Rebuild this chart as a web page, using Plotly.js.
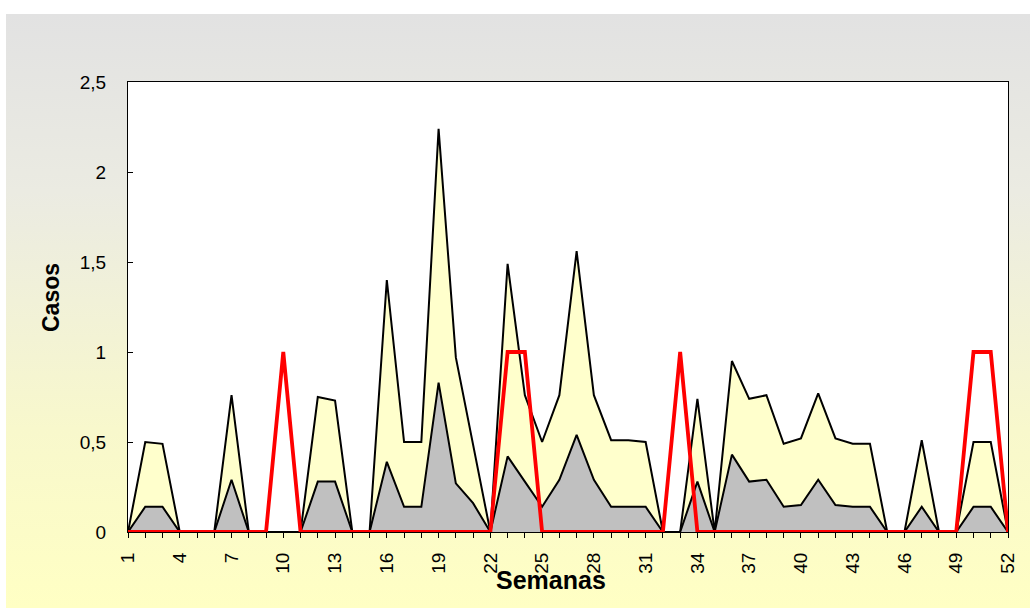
<!DOCTYPE html>
<html>
<head>
<meta charset="utf-8">
<script src="https://cdn.plot.ly/plotly-3.0.1.min.js"></script>
<style>
  html, body { margin: 0; padding: 0; background: #ffffff; }
  #bg { position: absolute; left: 6px; top: 14px; width: 1024px; height: 594px;
        background: linear-gradient(to bottom, #e2e2e2 0%, #ebebe2 30%, #f8f8cc 70%, #ffffc4 100%); }
  #chart { position: absolute; left: 0; top: 0; width: 1030px; height: 608px; }
</style>
</head>
<body>
<div id="bg"></div>
<div id="chart"></div>
<script>
// Weeks (semanas)
const weeks = [1,2,3,4,5,6,7,8,9,10,11,12,13,14,15,16,17,18,19,20,21,22,23,24,25,26,
               27,28,29,30,31,32,33,34,35,36,37,38,39,40,41,42,43,44,45,46,47,48,49,50,51,52];

// Upper (yellow) area series
const serieAmarilla = [0,0.5,0.49,0,0,0,0.76,0,0,0,0,0.75,0.73,0,0,1.4,0.5,0.5,2.24,0.97,0.48,0,
                       1.49,0.76,0.5,0.76,1.56,0.76,0.51,0.51,0.5,0,0,0.74,0,0.95,0.74,0.76,0.49,0.52,
                       0.77,0.52,0.49,0.49,0,0,0.51,0,0,0.5,0.5,0];

// Lower (gray) area series
const serieGris = [0,0.14,0.14,0,0,0,0.29,0,0,0,0,0.28,0.28,0,0,0.39,0.14,0.14,0.83,0.27,0.16,0,
                   0.42,0.28,0.14,0.29,0.54,0.29,0.14,0.14,0.14,0,0,0.28,0,0.43,0.28,0.29,0.14,0.15,
                   0.29,0.15,0.14,0.14,0,0,0.14,0,0,0.14,0.14,0];

// Red line series
const serieRoja = [0,0,0,0,0,0,0,0,0,1,0,0,0,0,0,0,0,0,0,0,0,0,
                   1,1,0,0,0,0,0,0,0,0,1,0,0,0,0,0,0,0,
                   0,0,0,0,0,0,0,0,0,1,1,0];

// Tick labels
const xTickWeeks = [1,4,7,10,13,16,19,22,25,28,31,34,37,40,43,46,49,52];
const xTickLabels = ['1','4','7','10','13','16','19','22','25','28','31','34','37','40','43','46','49','52'];
const yTickVals = [0,0.5,1,1.5,2,2.5];

const tickFont = {family: 'Liberation Sans, Arial, sans-serif', size: 19, color: '#000000'};

const traces = [
  {x: weeks, y: serieAmarilla, type: 'scatter', mode: 'lines', fill: 'tozeroy',
   fillcolor: '#ffffcc', line: {color: '#000000', width: 2}, hoverinfo: 'skip', showlegend: false},
  {x: weeks, y: serieGris, type: 'scatter', mode: 'lines', fill: 'tozeroy',
   fillcolor: '#c0c0c0', line: {color: '#000000', width: 2}, hoverinfo: 'skip', showlegend: false},
  {x: weeks, y: serieRoja, type: 'scatter', mode: 'lines',
   line: {color: '#ff0000', width: 3.8}, hoverinfo: 'skip', showlegend: false}
];

const layout = {
  width: 1030, height: 608,
  margin: {l: 128, r: 22, t: 82, b: 76},
  paper_bgcolor: 'rgba(0,0,0,0)',
  plot_bgcolor: '#ffffff',
  separators: ',.',
  xaxis: {
    range: [1, 52], showgrid: false, zeroline: false,
    showline: true, mirror: true, linecolor: '#000000', linewidth: 1,
    tickmode: 'array', tickvals: xTickWeeks, ticktext: xTickLabels,
    ticks: 'outside', ticklen: 5, tickcolor: '#000000', tickangle: -90,
    tickfont: tickFont, ticklabelstandoff: 7,
    minor: {dtick: 1, tick0: 1, ticks: 'outside', ticklen: 5, tickcolor: '#000000'}
  },
  xaxis2: {
    overlaying: 'x', matches: 'x', range: [1, 52], showgrid: false, zeroline: false,
    showticklabels: false, ticks: 'inside', ticklen: 5, tickcolor: '#000000',
    tickmode: 'linear', tick0: 1, dtick: 1, side: 'bottom'
  },
  yaxis: {
    range: [0, 2.5], showgrid: false, zeroline: false,
    showline: true, mirror: true, linecolor: '#000000', linewidth: 1,
    tickmode: 'array', tickvals: yTickVals,
    ticks: 'inside', ticklen: 5, tickcolor: '#000000',
    tickfont: tickFont, ticklabelstandoff: 17
  },
  annotations: [
    {text: '<b>Semanas</b>', xref: 'paper', yref: 'paper', x: 0.4807, y: -0.107,
     showarrow: false, xanchor: 'center', yanchor: 'middle',
     font: {family: 'Liberation Sans, Arial, sans-serif', size: 25, color: '#000000'}},
    {text: '<b>Casos</b>', xref: 'paper', yref: 'paper', x: -0.0875, y: 0.52,
     showarrow: false, xanchor: 'center', yanchor: 'middle', textangle: -90,
     font: {family: 'Liberation Sans, Arial, sans-serif', size: 23, color: '#000000'}}
  ]
};

Plotly.newPlot('chart', traces, layout, {displayModeBar: false, staticPlot: true});
</script>
</body>
</html>
